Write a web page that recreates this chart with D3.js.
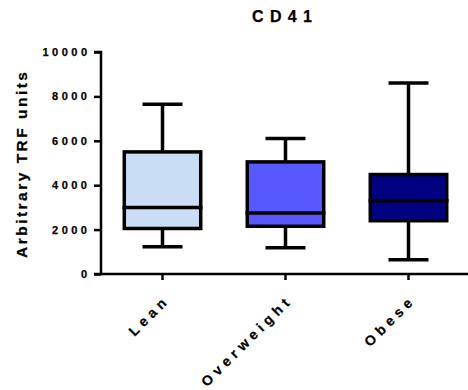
<!DOCTYPE html>
<html>
<head>
<meta charset="utf-8">
<script src="https://cdn.jsdelivr.net/npm/d3@7"></script>
<style>
  html, body { margin: 0; padding: 0; background: #fff; }
  text { font-family: "Liberation Sans", Arial, "DejaVu Sans", sans-serif; font-weight: 700; fill: #000; stroke: #000; stroke-width: 0.25px; }
</style>
</head>
<body>
<svg id="chart" width="468" height="390"></svg>
<script>
// Groups and five-number summaries (TRF units)
const groups   = ["Lean", "Overweight", "Obese"];
const mins     = [1230, 1180, 640];
const q1s      = [2050, 2150, 2400];
const medians  = [3000, 2750, 3300];
const q3s      = [5500, 5050, 4480];
const maxs     = [7650, 6100, 8600];
const fills    = ["#C9DDF5", "#5858FF", "#000080"];
const yTicks   = [0, 2000, 4000, 6000, 8000, 10000];

const svg = d3.select("#chart");
const plot = { left: 101, right: 470, top: 52, bottom: 274 };

const x = d3.scaleBand().domain(groups).range([plot.left, plot.right]).paddingInner(0.35).paddingOuter(0.175);
const y = d3.scaleLinear().domain([0, 10000]).range([plot.bottom, plot.top]);

const boxes = groups.map((g, i) => ({ g, min: mins[i], q1: q1s[i], med: medians[i], q3: q3s[i], max: maxs[i], fill: fills[i] }));

// Y axis
const yAxis = svg.append("g")
  .attr("transform", `translate(${plot.left},0)`)
  .call(d3.axisLeft(y).tickValues(yTicks).tickFormat(d3.format("d")).tickSize(7).tickPadding(3.5));
yAxis.select(".domain").attr("stroke-width", 2.5).attr("d", `M-7,${y(10000)}H0V${y(0)}`);
yAxis.selectAll(".tick line").attr("stroke-width", 2.5);
yAxis.selectAll(".tick text").style("font-size", "11px").style("letter-spacing", "3.5px");

// X axis
const xAxis = svg.append("g")
  .attr("transform", `translate(0,${plot.bottom})`)
  .call(d3.axisBottom(x).tickSize(6).tickSizeOuter(0));
xAxis.select(".domain").attr("stroke-width", 2.5).attr("d", `M${plot.left - 7},0H${plot.right}`);
xAxis.selectAll(".tick line").attr("stroke-width", 2.5);
xAxis.selectAll(".tick text")
  .style("font-size", "14px")
  .style("letter-spacing", "4.6px")
  .attr("text-anchor", "end")
  .attr("dy", null)
  .attr("y", 0)
  .attr("transform", "translate(8,27) rotate(-45)");

// Box plots
const bw = x.bandwidth();
const capW = bw * 0.5;
const g = svg.append("g");
boxes.forEach(b => {
  const cx = x(b.g) + bw / 2;
  const sw = 3.5;
  // whiskers
  g.append("line").attr("x1", cx).attr("x2", cx).attr("y1", y(b.max)).attr("y2", y(b.q3)).attr("stroke", "#000").attr("stroke-width", sw);
  g.append("line").attr("x1", cx).attr("x2", cx).attr("y1", y(b.q1)).attr("y2", y(b.min)).attr("stroke", "#000").attr("stroke-width", sw);
  g.append("line").attr("x1", cx - capW / 2).attr("x2", cx + capW / 2).attr("y1", y(b.max)).attr("y2", y(b.max)).attr("stroke", "#000").attr("stroke-width", sw);
  g.append("line").attr("x1", cx - capW / 2).attr("x2", cx + capW / 2).attr("y1", y(b.min)).attr("y2", y(b.min)).attr("stroke", "#000").attr("stroke-width", sw);
  // box
  g.append("rect").attr("x", x(b.g) + sw / 2).attr("width", bw - sw)
    .attr("y", y(b.q3)).attr("height", y(b.q1) - y(b.q3))
    .attr("fill", b.fill).attr("stroke", "#000").attr("stroke-width", sw);
  // median
  g.append("line").attr("x1", x(b.g)).attr("x2", x(b.g) + bw).attr("y1", y(b.med)).attr("y2", y(b.med)).attr("stroke", "#000").attr("stroke-width", sw);
});

// Title
svg.append("text").attr("x", 252).attr("y", 22)
  .attr("textLength", 60).attr("lengthAdjust", "spacing")
  .style("font-size", "16px").text("CD41");

// Y label
svg.append("text").attr("transform", `translate(27,258) rotate(-90)`)
  .attr("textLength", 186).attr("lengthAdjust", "spacing")
  .style("font-size", "15.5px").text("Arbitrary TRF units");
</script>
</body>
</html>
